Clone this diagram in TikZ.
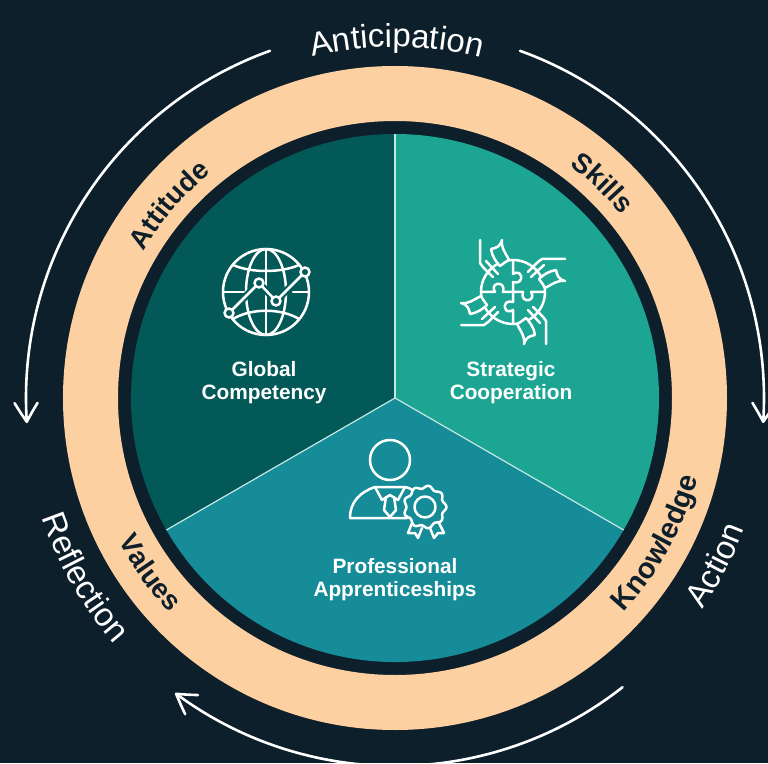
\documentclass[tikz,border=0pt]{standalone}
\usepackage{fontspec}
\setmainfont{Liberation Sans}
\usepackage{tikz}
\usetikzlibrary{arrows.meta}
\usetikzlibrary{bending}
\usetikzlibrary{decorations.text}

\definecolor{navybg}{HTML}{0D1F2B}
\definecolor{ringpeach}{HTML}{FDD0A2}
\definecolor{globegreen}{HTML}{035957}
\definecolor{puzzlegreen}{HTML}{1BA592}
\definecolor{apprenticeteal}{HTML}{168C99}

\newcommand{\ringfont}[1]{\color{navybg}\bfseries\fontsize{#1}{#1}\selectfont}
\newcommand{\cyclefont}{\color{white}\fontsize{33}{33}\selectfont}

\tikzset{
	sectorline/.style={draw=white!75!puzzlegreen, line width=1.2pt},
	iconline/.style={draw=white, line width=2.5pt, line cap=round, line join=round},
	cyclearrow/.style={draw=white, line width=2.6pt, line cap=round, -{Straight Barb[length=19pt, width=23pt, round, bend]}},
	alongarc/.style={decorate, decoration={text along path, text align=center, text={#1}}}
}

\begin{document}
\begin{tikzpicture}[x=1pt, y=1pt]
	\useasboundingbox (-395,-365) rectangle (373,398);
	\fill[navybg] (-395,-365) rectangle (373,398);
	\fill[ringpeach, even odd rule] (0,0) circle (332) (0,0) circle (277);
	\fill[globegreen] (0,0) -- (90:264) arc (90:210:264) -- cycle;
	\fill[puzzlegreen] (0,0) -- (90:264) arc (90:-30:264) -- cycle;
	\fill[apprenticeteal] (0,0) -- (210:264) arc (210:330:264) -- cycle;
	\draw[sectorline] (0,0) -- (90:264);
	\draw[sectorline] (0,0) -- (210:264);
	\draw[sectorline] (0,0) -- (330:264);

	\draw[cyclearrow] (70.2:369) arc (70.2:-3.9:369);
	\draw[cyclearrow] (-51.8:368) arc (-51.8:-126.7:368);
	\draw[cyclearrow] (109.8:369) arc (109.8:183.9:369);

	\path[alongarc={|\cyclefont|Anticipation}] (129.7:351) arc (129.7:49.7:351);
	\path[alongarc={|\cyclefont|Action}] (-55:373) arc (-55:0:373);
	\path[alongarc={|\cyclefont|Reflection}] (175:373) arc (175:245:373);
	\path[alongarc={|\ringfont{27.5}|Attitude}] (175.5:291) arc (175.5:103.5:291);
	\path[alongarc={|\ringfont{27.5}|Skills}] (80:291) arc (80:12:291);
	\path[alongarc={|\ringfont{27.5}|Values}] (180.5:311) arc (180.5:250.5:311);
	\path[alongarc={|\ringfont{29}|Knowledge}] (-70:313) arc (-70:12:313);

	\begin{scope}[every node/.style = {text=white, font=\bfseries\fontsize{20.8}{23}\selectfont, align=center}]
		\node (G) at (-131,15.5) {Global\\Competency};
		\node (S) at (116,15.5) {Strategic\\Cooperation};
		\node (P) at (0,-181.5) {Professional\\Apprenticeships};
	\end{scope}

	\begin{scope}[shift={(-129,106)}]
		\draw[iconline] (0,0) circle (43);
		\draw[iconline] (0,43) -- (0,-43);
		\draw[iconline] (0,0) ellipse (20 and 43);
		\draw[iconline] (-33,27) .. controls (-15,19) and (15,19) .. (33,27);
		\draw[iconline] (-33,-27) .. controls (-15,-16) and (15,-16) .. (33,-27);
		\draw[iconline] (-43,0) -- (-22,0);
		\draw[iconline] (27,0) -- (43,0);
		\draw[globegreen, line width=7pt] (-37,-21) -- (-7,9) -- (10,-9) -- (39,20);
		\draw[iconline] (-37,-21) -- (-7,9) -- (10,-9) -- (39,20);
		\foreach \px/\py in {-37/-21, -7/9, 10/-9, 39/20}
			\draw[iconline, fill=globegreen] (\px,\py) circle (4.5);
	\end{scope}

	\begin{scope}[shift={(118,106)}]
		\draw[iconline] (0,0) circle (32);
		\foreach \turn in {0,-90,-180,-270} {
			\begin{scope}[rotate=\turn]
				\draw[iconline] (0,0) -- (0,10) .. controls (6,8) and (9,12) .. (8,16) .. controls (7,20) and (3,20) .. (0,18) -- (0,32);
				\draw[iconline, fill=puzzlegreen] (-22,43) .. controls (-17,44) and (-13,45) .. (-11,52) .. controls (-12,44) and (-8,40) .. (-4,32) .. controls (-8,30) and (-10,28) .. (-13,26) .. controls (-17,30) and (-21,36) .. (-22,43);
				\draw[iconline] (-33,52) -- (-33,29) .. controls (-30,24) and (-25,20) .. (-20,15);
				\draw[iconline] (-27,31) -- (-15,18);
			\end{scope}
		}
	\end{scope}

	\begin{scope}[shift={(-5,-62)}]
		\draw[iconline] (0,0) circle (20);
		\draw[iconline] (17,-58) -- (-40,-58) .. controls (-40,-42) and (-30,-32) .. (-15,-27) -- (15,-27) .. controls (20,-28) and (23,-30) .. (25,-33);
		\draw[iconline] (-15,-27) -- (-8,-40) -- (0,-35) -- (8,-40) -- (15,-27);
		\draw[iconline] (-4,-37) -- (-6,-50) -- (0,-57) -- (6,-50) -- (4,-37);
		\draw[iconline] (22,-63) -- (18,-73) -- (25,-73) -- (28,-78) -- (32,-68);
		\draw[iconline] (40,-68) -- (44,-78) -- (48,-73) -- (54,-73) -- (49,-63);
		\draw[iconline, fill=apprenticeteal, shift={(35,-47)}] plot[domain=0:360, samples=91, smooth] ({(20+1.5*cos(9*\x))*cos(\x)},{(20+1.5*cos(9*\x))*sin(\x)}) -- cycle;
		\draw[iconline] (35,-47) circle (10.5);
	\end{scope}
\end{tikzpicture}
\end{document}
